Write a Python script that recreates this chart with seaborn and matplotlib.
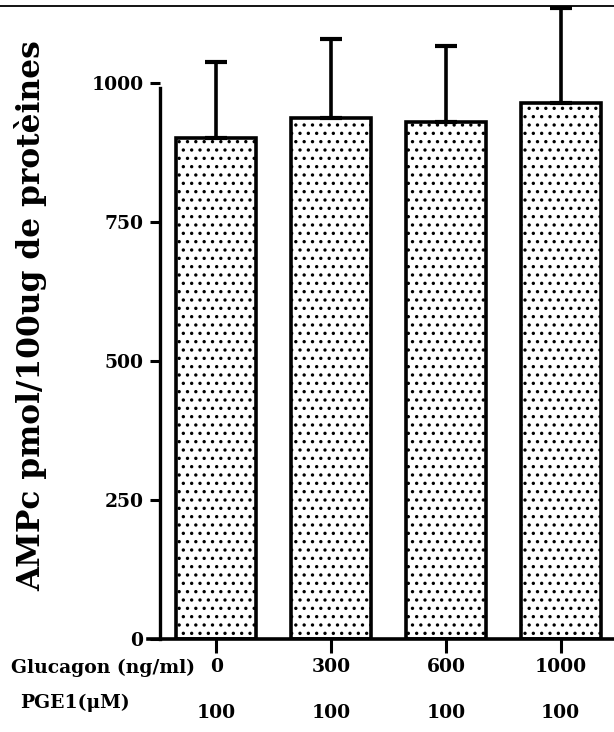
import matplotlib
matplotlib.use("Agg")
import matplotlib.pyplot as plt
import matplotlib.transforms as mtransforms
from matplotlib.lines import Line2D
import seaborn as sns
import pandas as pd

# ---- data ----
glucagon = ["0", "300", "600", "1000"]
pge1 = ["100", "100", "100", "100"]
ampc = [900, 937, 930, 964]
sem = [137, 141, 136, 171]
yticks = [0, 250, 500, 750, 1000]

sns.set_style("white")
plt.rcParams["font.family"] = ["DejaVu Serif"]
plt.rcParams["font.weight"] = "bold"
plt.rcParams["hatch.linewidth"] = 1.2
plt.rcParams["text.color"] = "black"
plt.rcParams["xtick.color"] = "black"
plt.rcParams["ytick.color"] = "black"

fig = plt.figure(figsize=(6.14, 7.32), dpi=100)
W, H = 614, 732
ax = fig.add_axes([148 / W, 1 - 639 / H, (614 - 148) / W, (639 - 6) / H])

df = pd.DataFrame({"glucagon": glucagon, "ampc": ampc})
sns.barplot(data=df, x="glucagon", y="ampc", order=glucagon, color="white",
            width=0.70, edgecolor="black", linewidth=2.6, hatch="..",
            errorbar=None, ax=ax, zorder=2)
for p in ax.patches:
    p.set_facecolor("white")
    p.set_edgecolor("black")

ax.errorbar(x=list(range(len(ampc))), y=ampc, yerr=[[0] * len(sem), sem],
            fmt="none", ecolor="black", elinewidth=2.6, capsize=8, capthick=3,
            zorder=3, clip_on=False)

ax.set_xlim(-0.595, 3.464)
ax.set_ylim(0, 1138)

# spines
for s in ["top", "right"]:
    ax.spines[s].set_visible(False)
ax.spines["left"].set_position(("data", -0.49))
ax.spines["left"].set_bounds(0, 990)
ax.spines["left"].set_linewidth(2.4)
ax.spines["bottom"].set_linewidth(2.6)
ax.spines["left"].set_color("black")
ax.spines["bottom"].set_color("black")

ax.set_yticks(yticks)
ax.set_yticklabels([str(v) for v in yticks])
ax.tick_params(axis="y", direction="out", length=7, width=2.2, pad=5,
               labelsize=13.5, left=True, colors="black")
ax.tick_params(axis="x", direction="out", length=10, width=2.2, pad=4,
               labelsize=13.5, bottom=True, colors="black")
ax.set_xticklabels(glucagon, fontweight="bold")
ax.set_xlabel("")
ax.set_ylabel("")

# row labels
fig.text(195 / W, 1 - 668 / H, "Glucagon (ng/ml)", ha="right", va="center",
         fontsize=13.5, fontweight="bold", color="black")
fig.text(20 / W, 1 - 703 / H, "PGE1(μM)", ha="left", va="center",
         fontsize=13.5, fontweight="bold", color="black")
trans = mtransforms.blended_transform_factory(ax.transData, fig.transFigure)
for i, v in enumerate(pge1):
    ax.text(i, 1 - 713 / H, v, transform=trans, ha="center", va="center",
            fontsize=13.5, fontweight="bold", color="black", clip_on=False)

# y label
fig.text(31 / W, 1 - 316 / H, "AMPc pmol/100ug de protèines", rotation=90,
         ha="center", va="center", fontsize=22.5, fontweight="bold",
         color="black")

# top border line
fig.add_artist(Line2D([0, 1], [1 - 6 / H, 1 - 6 / H], transform=fig.transFigure,
                      color="black", linewidth=1.3))

fig.savefig("out.png", dpi=100)
